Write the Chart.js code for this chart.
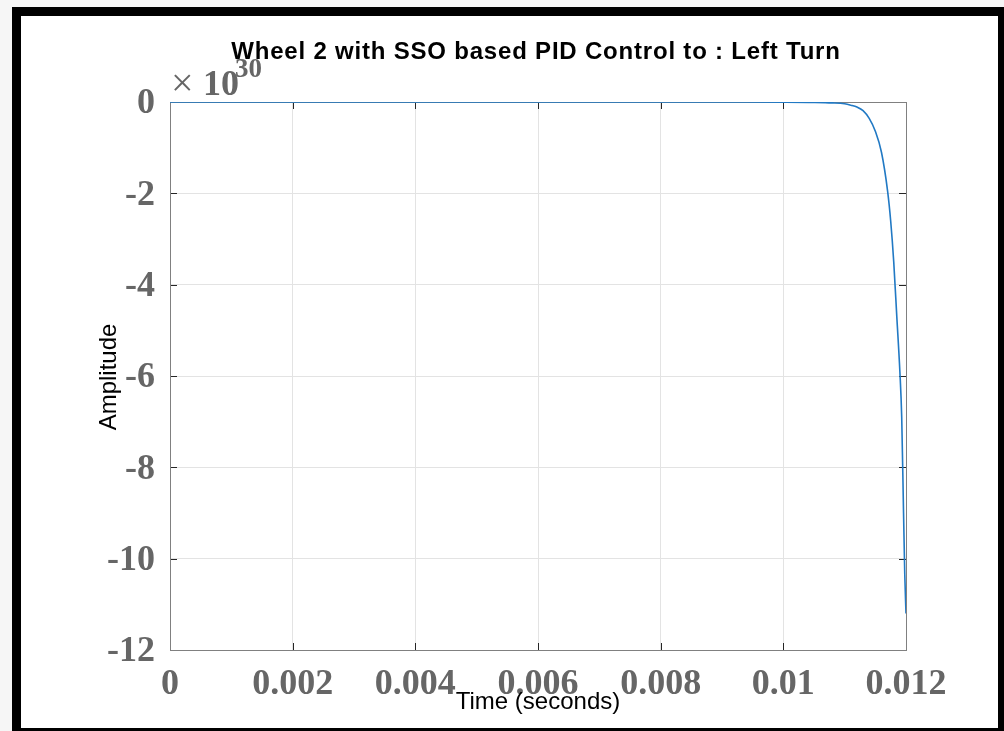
<!DOCTYPE html>
<html>
<head>
<meta charset="utf-8">
<title>Wheel 2 with SSO based PID Control to : Left Turn</title>
<script src="https://cdn.jsdelivr.net/npm/chart.js@4.4.1/dist/chart.umd.min.js"></script>
<style>
  html, body { margin: 0; padding: 0; background: #fff; }
  #wrap { width: 1004px; height: 731px; }
</style>
</head>
<body>
<div id="wrap"><canvas id="stepChart" width="1004" height="731"></canvas></div>
<script>
// step response data, amplitude in units of 1e30
const timeValues = [0, 0.001, 0.002, 0.003, 0.004, 0.005, 0.006, 0.007, 0.008, 0.009,
    0.0100, 0.0105, 0.0108, 0.0110, 0.0111, 0.0112, 0.0113, 0.0114, 0.0115, 0.0116,
    0.0117, 0.01175, 0.0118, 0.01185, 0.0119, 0.01193, 0.01196, 0.01198, 0.012];
const amplitudeValues = [0, 0, 0, 0, 0, 0, 0, 0, 0, 0,
    -0.002, -0.008, -0.02, -0.04, -0.07, -0.11, -0.19, -0.36, -0.64, -1.1,
    -1.95, -2.6, -3.5, -4.7, -5.9, -6.9, -9.0, -10.35, -11.2];

const xTickLabels = ["0", "0.002", "0.004", "0.006", "0.008", "0.01", "0.012"];
const yTickLabels = ["-12", "-10", "-8", "-6", "-4", "-2", "0"];

const chartTitle = "Wheel 2 with SSO based PID Control to : Left Turn";
const xTitle = "Time (seconds)";
const yTitle = "Amplitude";

const tickFont = { family: "'Liberation Serif', 'Times New Roman', serif", size: 36, weight: "bold" };
const tickColor = "#666666";


// frame, axis box, inner tick marks and texts

const decorations = {
    id: "decorations",

    beforeDraw(chart) {
        const ctx = chart.ctx;
        ctx.save();
        ctx.fillStyle = "#f6f6f6";
        ctx.fillRect(0, 0, chart.width, chart.height);
        ctx.fillStyle = "#000";
        ctx.fillRect(12, 7, chart.width - 12, chart.height - 7);
        ctx.fillStyle = "#fff";
        ctx.fillRect(21, 16, 977, 712);
        ctx.restore();
    },

    beforeDatasetsDraw(chart) {
        const ctx = chart.ctx;
        const a = chart.chartArea;
        const xs = chart.scales.x;
        const ys = chart.scales.y;

        ctx.save();
        ctx.strokeStyle = "#262626";
        ctx.lineWidth = 1;
        ctx.beginPath();
        xs.ticks.forEach(t => {
            const px = Math.round(xs.getPixelForValue(t.value)) + 0.5;
            ctx.moveTo(px, a.bottom); ctx.lineTo(px, a.bottom - 7);
            ctx.moveTo(px, a.top); ctx.lineTo(px, a.top + 7);
        });
        ys.ticks.forEach(t => {
            const py = Math.round(ys.getPixelForValue(t.value)) + 0.5;
            ctx.moveTo(a.left, py); ctx.lineTo(a.left + 7, py);
            ctx.moveTo(a.right, py); ctx.lineTo(a.right - 7, py);
        });
        ctx.stroke();

        ctx.strokeStyle = "#808080";
        ctx.strokeRect(Math.round(a.left) + 0.5, Math.round(a.top) + 0.5,
            Math.round(a.right - a.left), Math.round(a.bottom - a.top));
        ctx.restore();
    },

    afterDraw(chart) {
        const ctx = chart.ctx;
        const a = chart.chartArea;
        const cx = (a.left + a.right) / 2;
        const cy = (a.top + a.bottom) / 2;

        ctx.save();
        ctx.fillStyle = "#000";
        ctx.textAlign = "center";
        ctx.textBaseline = "alphabetic";
        ctx.font = "bold 24px 'Liberation Sans', Arial, sans-serif";
        ctx.letterSpacing = "0.8px";
        ctx.fillText(chartTitle, cx - 2, 59);
        ctx.letterSpacing = "0px";

        ctx.font = "24px 'Liberation Sans', Arial, sans-serif";
        ctx.fillText(xTitle, cx, 709);

        ctx.save();
        ctx.translate(116, cy + 1);
        ctx.rotate(-Math.PI / 2);
        ctx.fillText(yTitle, 0, 0);
        ctx.restore();

        // exponent of the y axis
        ctx.fillStyle = tickColor;
        ctx.textAlign = "left";
        ctx.font = "40px 'Liberation Serif', 'Times New Roman', serif";
        ctx.fillText("\u00d7", a.left + 1, 96);
        ctx.font = "bold 36px 'Liberation Serif', 'Times New Roman', serif";
        ctx.fillText("10", a.left + 33, 95);
        ctx.font = "bold 27px 'Liberation Serif', 'Times New Roman', serif";
        ctx.fillText("30", a.left + 65, 77);
        ctx.restore();
    }
};


// CHART

const ctx = document.getElementById("stepChart").getContext("2d");

new Chart(ctx, {
    type: "line",
    data: {
        datasets: [{
            data: timeValues.map((t, i) => ({ x: t, y: amplitudeValues[i] })),
            borderColor: "#2179c4",
            borderWidth: 1.6,
            pointRadius: 0,
            fill: false,
            cubicInterpolationMode: "monotone"
        }]
    },
    options: {
        responsive: false,
        animation: false,
        events: [],
        layout: { padding: { top: 102, right: 98, left: 0, bottom: 0 } },
        plugins: {
            legend: { display: false },
            tooltip: { enabled: false },
            title: { display: false }
        },
        scales: {
            x: {
                type: "linear",
                min: 0,
                max: 0.012,
                afterFit: s => { s.height = 81; },
                afterBuildTicks: s => {
                    s.ticks = xTickLabels.map(l => ({ value: parseFloat(l) }));
                },
                ticks: {
                    callback: (v, i) => xTickLabels[i],
                    font: tickFont,
                    color: tickColor,
                    padding: 13,
                    maxRotation: 0,
                    autoSkip: false
                },
                grid: { color: "#e3e3e3", drawTicks: false },
                border: { display: false }
            },
            y: {
                min: -12,
                max: 0,
                afterFit: s => { s.width = 170; },
                afterBuildTicks: s => {
                    s.ticks = yTickLabels.map(l => ({ value: parseFloat(l) }));
                },
                ticks: {
                    callback: (v, i) => yTickLabels[i],
                    font: tickFont,
                    color: tickColor,
                    padding: 15,
                    labelOffset: 2,
                    autoSkip: false
                },
                grid: { color: "#e3e3e3", drawTicks: false },
                border: { display: false }
            }
        }
    },
    plugins: [decorations]
});
</script>
</body>
</html>
